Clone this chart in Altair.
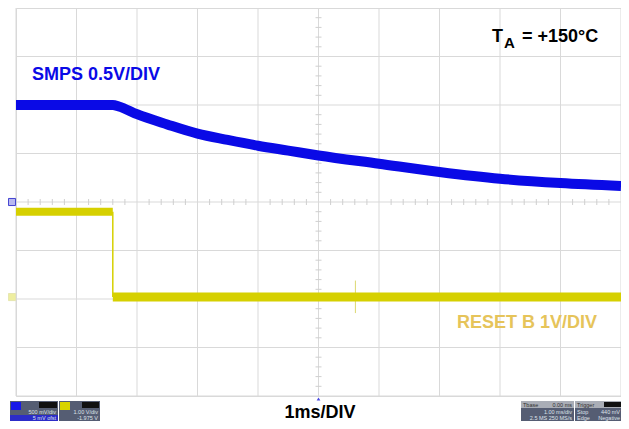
import altair as alt
import pandas as pd

# ---- data (time in ms = divisions at 1 ms/div; amplitude in screen divisions) ----
smps_t = [0.0, 1.6, 1.7, 2.0, 2.5, 3.0, 3.5, 4.0, 4.5, 5.0, 6.0, 7.0, 8.0, 9.0, 10.0]
smps_v = [2.0, 2.0, 1.97, 1.81, 1.60, 1.41, 1.28, 1.16, 1.06, 0.96, 0.79, 0.62, 0.48, 0.39, 0.33]

reset_hi_t = [0.0, 1.6]
reset_hi_v = [-0.2, -0.2]
reset_lo_t = [1.6, 10.0]
reset_lo_v = [-1.96, -1.96]
reset_edge_t = [1.6]
reset_edge_top = [-0.2]
reset_edge_bottom = [-1.96]
glitch_t = [5.61]
glitch_top = [-1.62]
glitch_bottom = [-2.29]

smps_ground = [0.0]
reset_ground = [-1.96]
trigger_level = [0.88]
trigger_time = [5.0]

grid_x = list(range(0, 11))
grid_y = list(range(-4, 5))
minor_x = [i / 5 for i in range(0, 51) if i % 5]
minor_y = [i / 5 - 4 for i in range(0, 41) if i % 5]

W, H = 605, 388
FONT = "Liberation Sans"
BLUE = "#0a0ae6"
YEL = "#d6d000"

xs = alt.Scale(domain=[0, 10], nice=False, zero=False)
ys = alt.Scale(domain=[-4, 4], nice=False, zero=False)


def X(f):
    return alt.X(f, type="quantitative", scale=xs, axis=None)


def Y(f):
    return alt.Y(f, type="quantitative", scale=ys, axis=None)


one = pd.DataFrame({"k": [0]})

layers = []

# grid
layers.append(alt.Chart(pd.DataFrame({"g": grid_x})).mark_rule(color="#d9d9d9", strokeWidth=1).encode(x=X("g")))
layers.append(alt.Chart(pd.DataFrame({"g": grid_y})).mark_rule(color="#d9d9d9", strokeWidth=1).encode(y=Y("g")))
layers.append(alt.Chart(pd.DataFrame({"p": minor_x})).mark_rule(color="#cfcfcf", strokeWidth=1).encode(
    x=X("p"), y=alt.value(H / 2 - 3), y2=alt.value(H / 2 + 3)))
layers.append(alt.Chart(pd.DataFrame({"p": minor_y})).mark_rule(color="#cfcfcf", strokeWidth=1).encode(
    y=Y("p"), x=alt.value(W / 2 - 3), x2=alt.value(W / 2 + 3)))

# traces
layers.append(alt.Chart(pd.DataFrame({"t": reset_edge_t, "a": reset_edge_top, "b": reset_edge_bottom}))
              .mark_rule(color=YEL, strokeWidth=1.5).encode(x=X("t"), y=Y("a"), y2="b"))
layers.append(alt.Chart(pd.DataFrame({"t": glitch_t, "a": glitch_top, "b": glitch_bottom}))
              .mark_rule(color="#dcd870", strokeWidth=1).encode(x=X("t"), y=Y("a"), y2="b"))
layers.append(alt.Chart(pd.DataFrame({"t": reset_hi_t, "v": reset_hi_v}))
              .mark_line(color=YEL, strokeWidth=8, strokeCap="butt").encode(x=X("t"), y=Y("v")))
layers.append(alt.Chart(pd.DataFrame({"t": reset_lo_t, "v": reset_lo_v}))
              .mark_line(color=YEL, strokeWidth=9, strokeCap="butt").encode(x=X("t"), y=Y("v")))
layers.append(alt.Chart(pd.DataFrame({"t": smps_t, "v": smps_v}))
              .mark_line(color=BLUE, strokeWidth=10, strokeCap="butt", strokeJoin="round", interpolate="monotone")
              .encode(x=X("t"), y=Y("v")))

# markers
layers.append(alt.Chart(pd.DataFrame({"v": smps_ground})).mark_square(
    size=50, fill="#b8b8f0", stroke="#4040d0", strokeWidth=1, opacity=1).encode(x=alt.value(-4), y=Y("v")))
layers.append(alt.Chart(pd.DataFrame({"v": reset_ground})).mark_square(
    size=50, fill="#eeeea0", stroke="#e6e6b0", strokeWidth=1, opacity=1).encode(x=alt.value(-4), y=Y("v")))
layers.append(alt.Chart(pd.DataFrame({"v": trigger_level})).mark_point(
    shape="triangle-left", filled=True, color="#2a2ae0", size=18, opacity=1).encode(x=alt.value(W + 3), y=Y("v")))
layers.append(alt.Chart(pd.DataFrame({"t": trigger_time})).mark_point(
    shape="triangle-up", filled=True, color="#4a4ae0", size=14, opacity=1).encode(x=X("t"), y=alt.value(H + 3)))


# annotations
def txt(s, x, y, size, color, align="left", weight="bold"):
    return alt.Chart(one).mark_text(text=s, font=FONT, fontSize=size, fontWeight=weight, color=color,
                                    align=align, baseline="alphabetic").encode(x=alt.value(x), y=alt.value(y))


layers.append(txt("SMPS 0.5V/DIV", 16, 72, 18, BLUE))
layers.append(txt("T", 476, 34, 18, "#000000"))
layers.append(txt("A", 488, 40, 15, "#000000"))
layers.append(txt("= +150°C", 506, 34, 18, "#000000"))
layers.append(txt("RESET B 1V/DIV", 441, 320, 18, "#e6c45a"))
layers.append(txt("1ms/DIV", 304, 410, 18, "#000000", align="center"))


# oscilloscope status panels (page coordinates minus the plot origin 16,8)
def box(x1, x2, y1, y2, color):
    return alt.Chart(one).mark_rect(color=color).encode(
        x=alt.value(x1), x2=alt.value(x2), y=alt.value(y1), y2=alt.value(y2))


PANEL = "#555d73"
STRIP = "#a9adb6"
LT = "#dfe2ea"
T0, T1 = 393, 413  # panel top / bottom
layers += [
    box(-6, 42, T0, T1, PANEL), box(-5, 5, T0 + 1, T0 + 9, "#1818e8"), box(23, 41, T0 + 1, T0 + 7, "#101010"),
    box(-6, 42, T0 + 14, T1, "#2c2cc8"),
    box(43, 84, T0, T1, PANEL), box(44, 54, T0 + 1, T0 + 9, "#d8d400"), box(66, 83, T0 + 1, T0 + 7, "#101010"),
    box(505, 558, T0, T1, PANEL), box(505, 558, T0, T0 + 7, STRIP),
    box(559, 606, T0, T1, PANEL), box(559, 606, T0, T0 + 7, STRIP), box(588, 605, T0 + 1, T0 + 6, "#101010"),
]
R1, R2, R0 = T0 + 13, T0 + 19, T0 + 6
layers += [
    txt("500 mV/div", 40, R1, 5.5, LT, align="right", weight="normal"),
    txt("5 mV ofst", 40, R2, 5.5, LT, align="right", weight="normal"),
    txt("1.00 V/div", 82, R1, 5.5, LT, align="right", weight="normal"),
    txt("-1.975 V", 82, R2, 5.5, LT, align="right", weight="normal"),
    txt("Tbase", 507, R0, 5.5, "#303030", weight="normal"),
    txt("0.00 ms", 556, R0, 5.5, "#303030", align="right", weight="normal"),
    txt("1.00 ms/div", 556, R1, 5.5, LT, align="right", weight="normal"),
    txt("2.5 MS  250 MS/s", 556, R2, 5.5, LT, align="right", weight="normal"),
    txt("Trigger", 561, R0, 5.5, "#303030", weight="normal"),
    txt("Stop", 561, R1, 5.5, LT, weight="normal"),
    txt("440 mV", 604, R1, 5.5, LT, align="right", weight="normal"),
    txt("Edge", 561, R2, 5.5, LT, weight="normal"),
    txt("Negative", 604, R2, 5.5, LT, align="right", weight="normal"),
]

chart = alt.layer(*layers).properties(
    width=W, height=H,
    autosize=alt.AutoSizeParams(type="none"),
    padding={"left": 8, "top": 0, "right": 0, "bottom": 25},
    background="white",
).configure_view(stroke="#d9d9d9", strokeWidth=1)

chart.save("out.html", embed_options={"renderer": "svg", "actions": False})
